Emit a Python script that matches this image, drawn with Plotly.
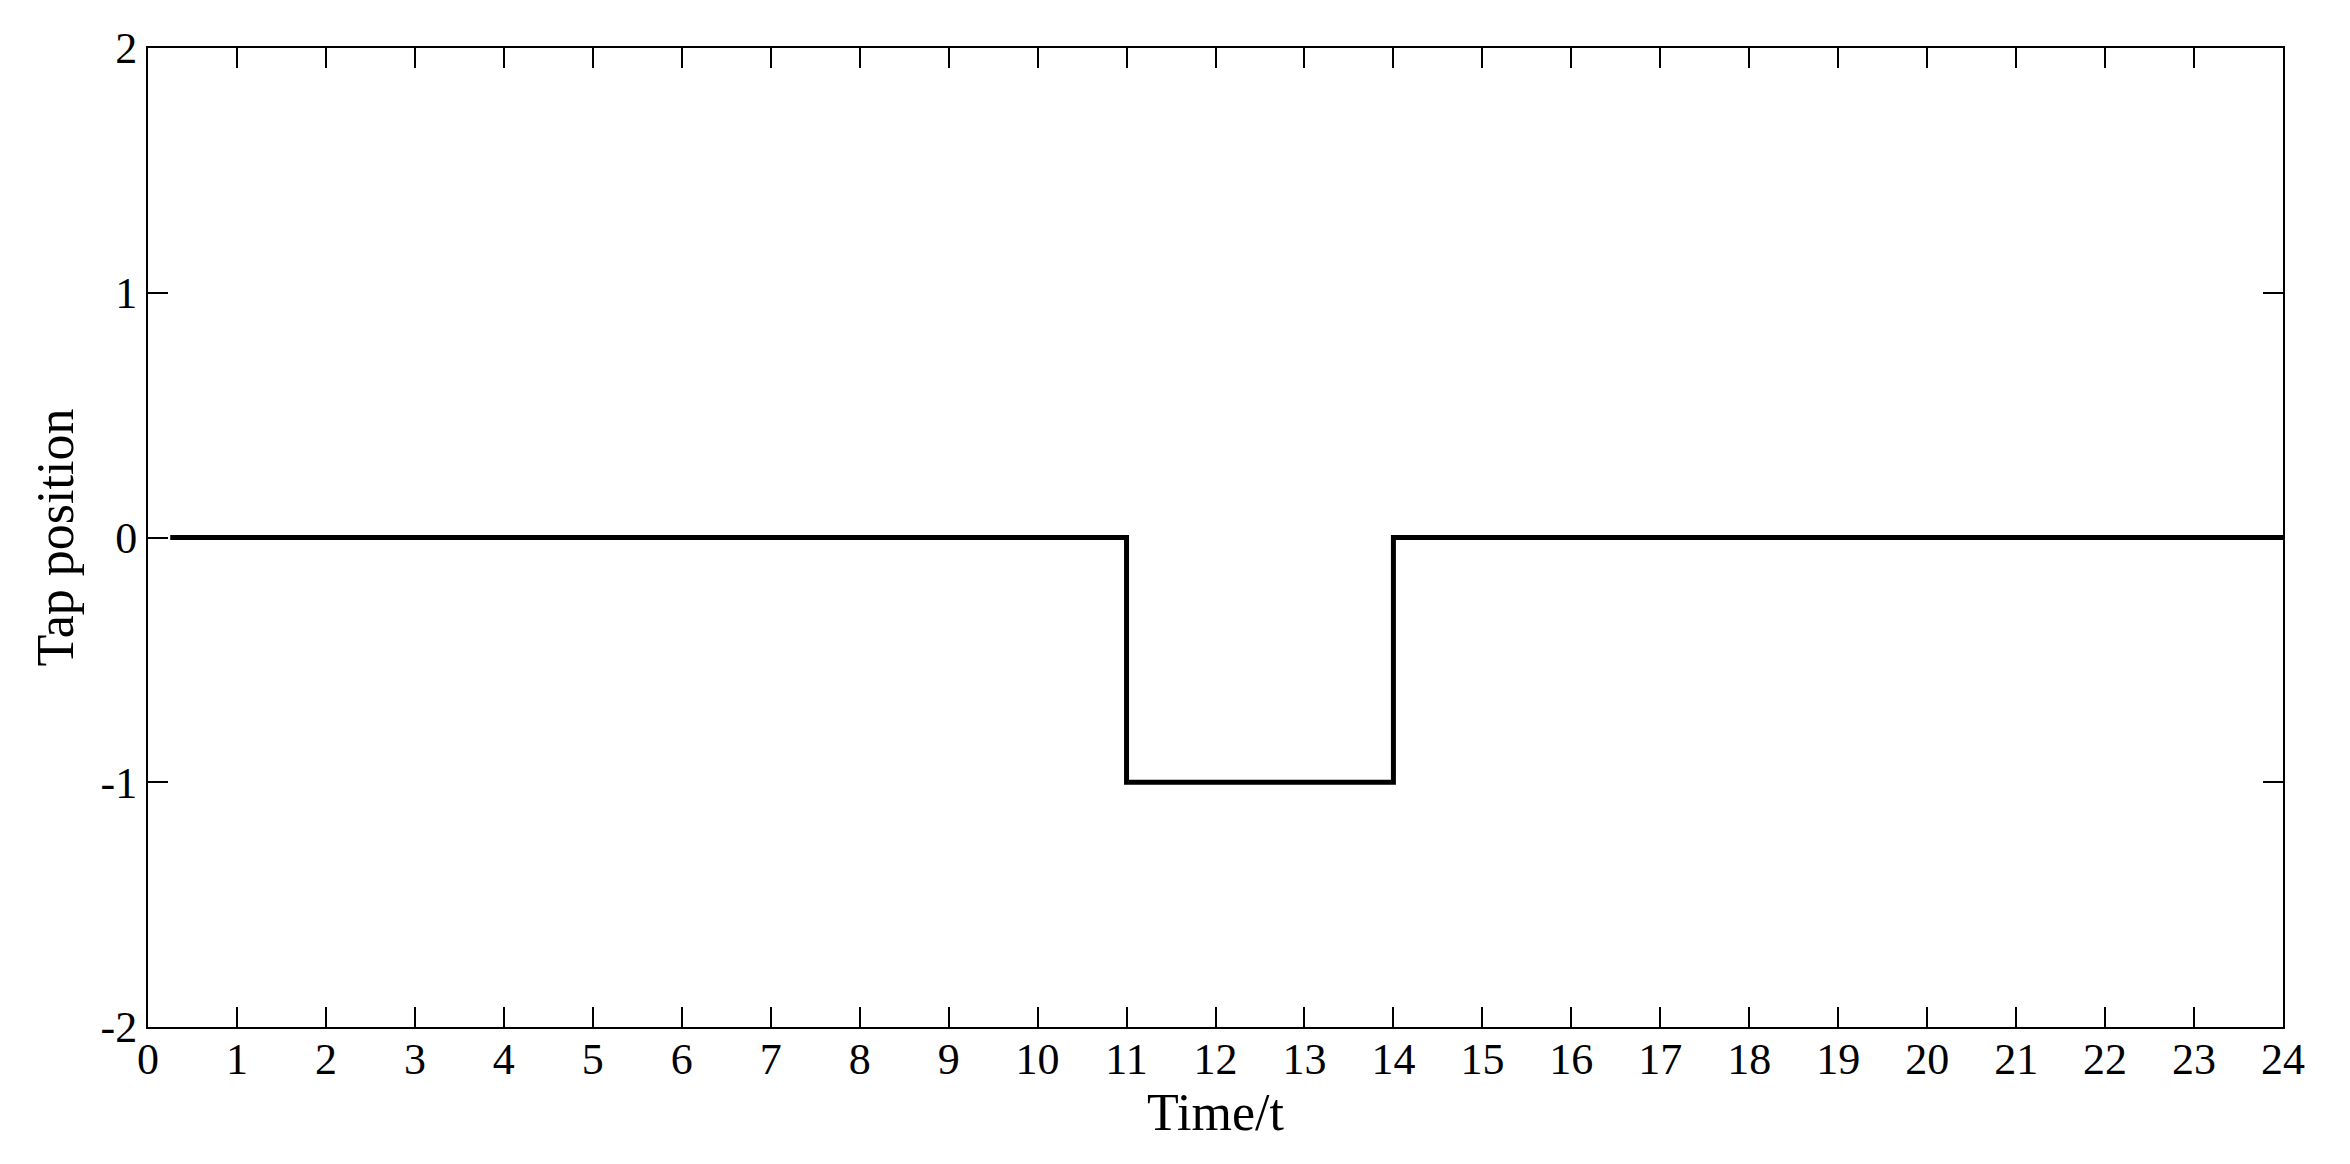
import plotly.graph_objects as go

# Tap position schedule (step changes), hours
time_h = [0.25, 11, 14, 24]
tap_pos = [0, -1, 0, 0]

x_ticks = list(range(0, 25))
y_ticks = [-2, -1, 0, 1, 2]
y_labels = ["-2", "-1", "0", "1", "2"]

fig = go.Figure()
fig.add_trace(go.Scatter(
    x=time_h,
    y=tap_pos,
    mode="lines",
    line=dict(color="#000000", width=5, shape="hv"),
    showlegend=False,
))

axis_font = dict(family="Liberation Serif, Times New Roman, serif", size=44, color="#000000")
title_font = dict(family="Liberation Serif, Times New Roman, serif", size=52, color="#000000")

# page body has an 8px margin, so the figure is sized a bit smaller
fig.update_layout(
    width=2334,
    height=1148,
    paper_bgcolor="#ffffff",
    plot_bgcolor="#ffffff",
    margin=dict(l=140, r=59, t=40, b=129),
    xaxis=dict(
        range=[0, 24],
        tickvals=x_ticks,
        ticks="inside",
        ticklen=20,
        tickwidth=2,
        tickcolor="#000000",
        ticklabelstandoff=-8,
        showline=True,
        linecolor="#000000",
        linewidth=2,
        mirror="ticks",
        showgrid=False,
        zeroline=False,
        automargin=False,
        tickfont=axis_font,
        title=dict(text="Time/t", font=title_font, standoff=0),
    ),
    yaxis=dict(
        range=[-2, 2],
        tickvals=y_ticks,
        ticktext=y_labels,
        ticks="inside",
        ticklen=20,
        tickwidth=2,
        tickcolor="#000000",
        showline=True,
        linecolor="#000000",
        linewidth=2,
        mirror="ticks",
        showgrid=False,
        zeroline=False,
        automargin=False,
        tickfont=axis_font,
        title=dict(text="Tap position", font=title_font, standoff=10),
    ),
)

fig.write_html("out.html")
